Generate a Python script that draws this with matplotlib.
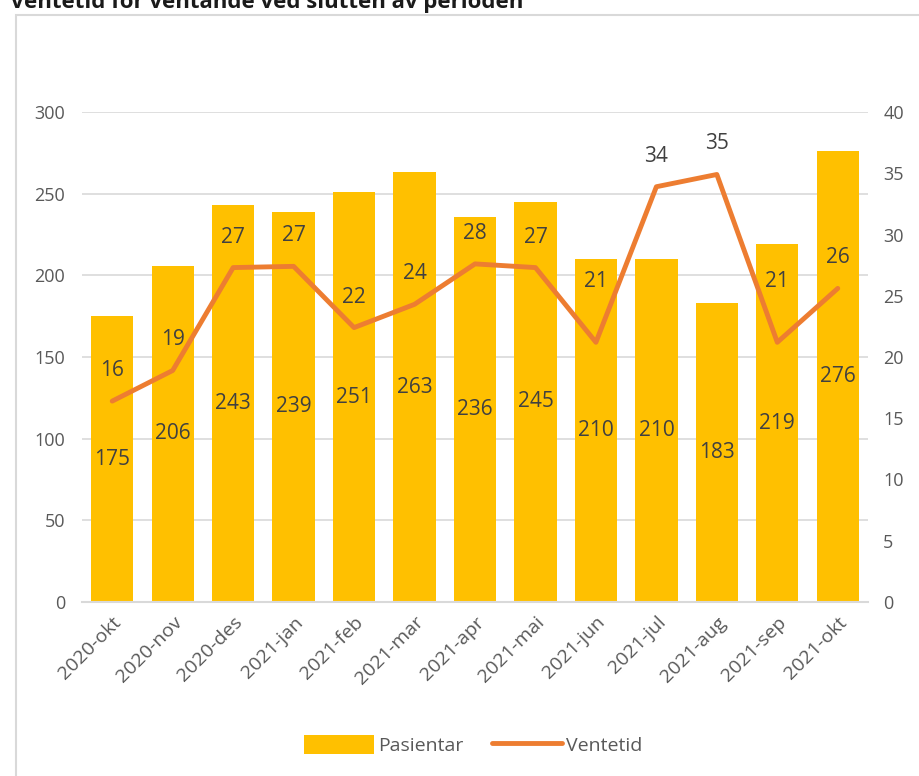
import matplotlib
matplotlib.use('Agg')
import matplotlib.pyplot as plt
from matplotlib.patches import Rectangle
import numpy as np

plt.rcParams['font.family'] = ['Open Sans', 'DejaVu Sans']

# data
months = ['2020-okt', '2020-nov', '2020-des', '2021-jan', '2021-feb', '2021-mar',
          '2021-apr', '2021-mai', '2021-jun', '2021-jul', '2021-aug', '2021-sep', '2021-okt']
pasientar = [175, 206, 243, 239, 251, 263, 236, 245, 210, 210, 183, 219, 276]
ventetid = [16.4, 18.9, 27.3, 27.4, 22.4, 24.3, 27.6, 27.3, 21.2, 33.9, 34.9, 21.2, 25.6]

BAR = '#FFC000'
LINE = '#ED7D31'
TXT = '#595959'
LBL = '#404040'
GRID = '#D9D9D9'

fig = plt.figure(figsize=(9.19, 7.76), dpi=100)
fig.patches.append(Rectangle((16 / 919, -0.1), 1.1, 1 - 15 / 776 + 0.1,
                             transform=fig.transFigure, fill=False,
                             edgecolor=GRID, lw=1.5))
fig.text(10 / 919, 1 - 8 / 776, 'Ventetid for ventande ved slutten av perioden',
         fontsize=16, fontweight='bold', color='#1a1a1a', va='baseline', ha='left')

ax = fig.add_axes([82 / 919, 1 - 602 / 776, 786 / 919, 490 / 776])
x = np.arange(len(months))
bars = ax.bar(x, pasientar, width=0.7, color=BAR, zorder=2, label='Pasientar')
ax.set_ylim(0, 300)
ax.set_xlim(-0.5, len(months) - 0.5)
ax.set_yticks(range(0, 301, 50))
ax.grid(axis='y', color=GRID, lw=1.2, zorder=0)
for s in ['top', 'right', 'left']:
    ax.spines[s].set_visible(False)
ax.spines['bottom'].set_color(GRID)
ax.spines['bottom'].set_linewidth(1.5)
ax.tick_params(axis='both', length=0, labelsize=13, colors=TXT)
ax.tick_params(axis='y', pad=12)
ax.tick_params(axis='x', labelsize=14, pad=8)
ax.set_xticks(x)
ax.set_xticklabels(months, rotation=45, ha='right', rotation_mode='anchor')
for lab in ax.get_xticklabels():
    lab.set_color(TXT)
for xi, v in zip(x, pasientar):
    ax.text(xi, v / 2, str(v), ha='center', va='center', fontsize=15, color=LBL, zorder=5)

ax2 = ax.twinx()
line, = ax2.plot(x, ventetid, color=LINE, lw=3.5, solid_capstyle='round', zorder=3,
                 label='Ventetid')
ax2.set_ylim(0, 40)
ax2.set_yticks(range(0, 41, 5))
for s in ['top', 'right', 'left', 'bottom']:
    ax2.spines[s].set_visible(False)
ax2.tick_params(axis='y', length=0, labelsize=13, colors=TXT, pad=11)
# label offsets in points (two labels pushed higher to clear the bar labels)
offsets = [22] * len(months)
offsets[8] = 44
offsets[11] = 44
for xi, v, off in zip(x, ventetid, offsets):
    ax2.annotate(f'{v:.0f}', (xi, v), xytext=(0, off), textcoords='offset points',
                 ha='center', va='center', fontsize=15, color=LBL)

fig.legend([bars, line], ['Pasientar', 'Ventetid'], loc='center',
           bbox_to_anchor=(0.515, 1 - 745 / 776), ncol=2, frameon=False,
           fontsize=14, labelcolor=TXT, handlelength=3.6, handleheight=1.1,
           columnspacing=1.5, handletextpad=0.2)

fig.savefig('out.png', dpi=100)
